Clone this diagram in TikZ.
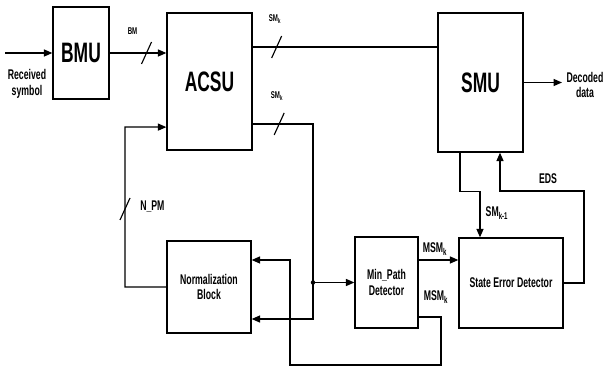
\documentclass[tikz,border=0pt]{standalone}
\usepackage{fontspec}
\newfontfamily\narrowsf[FakeStretch=0.62]{Liberation Sans}
\usepackage{tikz}
\usetikzlibrary{arrows.meta, positioning}
\newcommand{\busmark}[1]{\draw[line width=0.8pt] (#1) ++(-5,11) -- ++(10,-22);}

\begin{document}
\begin{tikzpicture}[
    x=0.025cm, y=-0.025cm,
    block/.style={draw, line width=0.9pt, align=center, inner sep=0pt,
                  font=\narrowsf\bfseries\fontsize{10}{11}\selectfont},
    unit/.style={block, font=\narrowsf\bfseries\fontsize{20}{22}\selectfont},
    wire/.style={line width=0.9pt},
    arrow/.style={-{Triangle[length=6pt, width=5pt]}, line width=0.9pt},
    lbl/.style={inner sep=0pt, align=center, font=\narrowsf\bfseries\fontsize{10}{11}\selectfont},
    tiny/.style={inner sep=0pt, font=\narrowsf\bfseries\fontsize{7}{8}\selectfont}
]
    \useasboundingbox (0,0) rectangle (605,367);

    \node[unit, minimum width=1.4cm, minimum height=2.3cm] (bmu) at (81,53) {BMU};
    \node[unit, minimum width=2.125cm, minimum height=3.425cm] (acsu) at (209.5,81.5) {ACSU};
    \node[unit, minimum width=2.125cm, minimum height=3.475cm] (smu) at (480.5,82.5) {SMU};
    \node[block, minimum width=2.1cm, minimum height=2.3cm] (norm) at (209,287) {Normalization\\Block};
    \node[block, minimum width=1.575cm, minimum height=2.275cm] (minpath) at (386.5,282.5) {Min\_Path\\Detector};
    \node[block, minimum width=2.6cm, minimum height=2.25cm] (sed) at (511,283) {State Error Detector};

    \coordinate (rx) at (5,53);
    \coordinate (dec) at (562,82.5);
    \coordinate (split) at (313,282.5);
    \coordinate (npmtop) at (125,127);
    \coordinate (npmbus) at (125,209);
    \coordinate (loopbr) at (441,365);
    \coordinate (loopbl) at (290,365);
    \coordinate (edscorner) at (584,191);

    % input and output
    \draw[arrow] (rx) -- (bmu);
    \node[lbl] (rxlabel) at (27,84) {Received\\symbol};
    \draw[arrow] (smu.east) -- (dec);
    \node[lbl] (declabel) at (585,85) {Decoded\\data};

    % branch metrics
    \draw[arrow] (bmu.east) -- coordinate[pos=0.65] (bmbus) (bmu.east -| acsu.west);
    \busmark{bmbus}
    \node[tiny] (bmlabel) at (132.5,31) {BM};

    % state metrics
    \draw[wire] ([yshift=0.8625cm]acsu.east) -- coordinate[pos=0.13] (smbus) ([yshift=0.8625cm]acsu.east -| smu.west);
    \busmark{smbus}
    \node[tiny] (smlabel) at (275,19) {SM\textsubscript{k}};
    \draw[wire] ([yshift=-1.06cm]acsu.east) -- coordinate[pos=0.44] (smbuslow) ([yshift=-1.06cm]acsu.east -| split) -- (split);
    \busmark{smbuslow}
    \node[tiny] (smlabellow) at (277,96) {SM\textsubscript{k}};
    \fill (split) circle (1.6pt);
    \draw[arrow] (split) -- (minpath.west);
    \draw[arrow] (split) |- ([yshift=-0.8cm]norm.east);

    % normalized path metrics
    \draw[arrow] (norm.west) -| (npmtop) -- ([yshift=-1.14cm]acsu.west);
    \busmark{npmbus}
    \node[lbl, anchor=west] (npmlabel) at (140,207) {N\_PM};

    % minimum state metric
    \draw[arrow] ([yshift=0.5625cm]minpath.east) -- ([yshift=0.5625cm]minpath.east -| sed.west);
    \node[lbl] (msmlabel) at (435,249) {MSM\textsubscript{k}};
    \draw[arrow] ([yshift=-0.86cm]minpath.east) -| (loopbr) -- (loopbl) |- ([yshift=0.675cm]norm.east);
    \node[lbl] (msmlabellow) at (436,297) {MSM\textsubscript{k}};

    % error detection
    \draw[arrow] ([xshift=-0.5125cm]smu.south) -- ++(0,39) -| ([xshift=-0.775cm]sed.north);
    \node[lbl] (smprevlabel) at (497,213) {SM\textsubscript{k-1}};
    \draw[arrow] (sed.east) -| (edscorner) -| ([xshift=0.4875cm]smu.south);
    \node[lbl] (edslabel) at (548,179) {EDS};
\end{tikzpicture}
\end{document}
